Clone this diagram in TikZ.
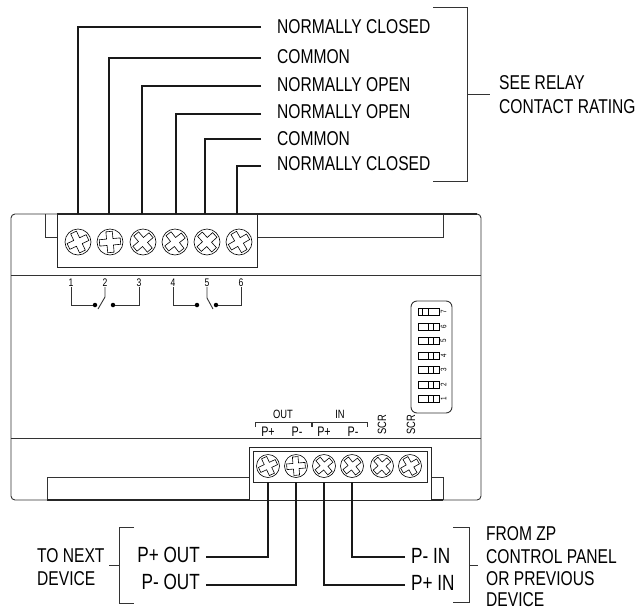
\documentclass[tikz,border=0pt]{standalone}
\usepackage{fontspec}
\setmainfont[FakeStretch=0.78]{Liberation Sans}
\usetikzlibrary{positioning}

\newcommand{\screwcross}[3]{%
  \draw[line width=0.6pt,shift={(#1)},rotate=#2,scale=#3]
    (-10.5,-3.2) -- (-3.2,-3.2) -- (-3.2,-10.5) -- (3.2,-10.5) -- (3.2,-3.2) -- (10.5,-3.2)
    -- (10.5,3.2) -- (3.2,3.2) -- (3.2,10.5) -- (-3.2,10.5) -- (-3.2,3.2) -- (-10.5,3.2) -- cycle;}

\begin{document}
\begin{tikzpicture}[x=1pt,y=-1pt]
      \tikzstyle{every node}=[inner sep=0pt,text=black]
      \tikzstyle{lab}=[anchor=west,font=\fontsize{20}{20}\selectfont]
      \tikzstyle{biglab}=[font=\fontsize{22}{22}\selectfont]
      \tikzstyle{tiny}=[font=\fontsize{13.8}{13.8}\selectfont]
      \tikzstyle{buslab}=[font=\fontsize{12}{12}\selectfont]
      \tikzstyle{num}=[font=\fontsize{11}{11}\selectfont]
      \tikzstyle{dipnum}=[font=\fontsize{8}{8}\selectfont,rotate=90]
      \tikzstyle{wire}=[line width=1.6pt,black!90]
      \tikzstyle{thin}=[line width=0.9pt,black!80]
      \tikzstyle{block}=[draw,line width=1pt,black!85,fill=white]
      \tikzstyle{contact}=[circle,fill=black,minimum size=4.5pt]
      \tikzstyle{dip}=[draw,line width=0.9pt,minimum width=21pt,minimum height=7pt]
      \tikzstyle{slider}=[draw,line width=1pt,minimum width=5.5pt,minimum height=7pt]
      \tikzstyle{bigscrew}=[circle,draw,line width=0.6pt,minimum size=26pt]
      \tikzstyle{smallscrew}=[circle,draw,line width=0.6pt,minimum size=23pt]

      \useasboundingbox (0,0) rectangle (635,611);

      % housing
      \draw[thin,rounded corners=4pt] (11,214) rectangle (481,500);
      \draw[thin] (11,275.5) -- (481,275.5);
      \draw[thin] (11,438) -- (481,438);
      \draw[thin] (45,214) -- (45,237) -- (57,237);
      \draw[thin] (257,237) -- (443,237) -- (443,214);
      \draw[thin] (249,477) -- (47,477) -- (47,500);
      \draw[thin] (431,477) -- (443,477) -- (443,500);
      \draw[line width=1.1pt,black!85] (57,214) -- (477,214);
      \draw[line width=1.1pt,black!85] (47,500) -- (443,500);

      % terminal blocks
      \node[block,minimum width=200pt,minimum height=53pt] (tb) at (157,240.5) {};
      \node[block,minimum width=182pt,minimum height=53pt] (bb) at (340,473.5) {};
      \node[block,minimum width=174pt,minimum height=31pt] (bi) at (340,466.5) {};

      \node[bigscrew] (t1) at (78,242) {};
      \node[bigscrew] (t2) at (110,242) {};
      \node[bigscrew] (t3) at (143,242) {};
      \node[bigscrew] (t4) at (175,242) {};
      \node[bigscrew] (t5) at (207,242) {};
      \node[bigscrew] (t6) at (239,242) {};
      \screwcross{t1}{25}{1}
      \screwcross{t2}{5}{1}
      \screwcross{t3}{40}{1}
      \screwcross{t4}{38}{1}
      \screwcross{t5}{42}{1}
      \screwcross{t6}{30}{1}

      \node[smallscrew] (b1) at (268,466) {};
      \node[smallscrew] (b2) at (296,466) {};
      \node[smallscrew] (b3) at (324,466) {};
      \node[smallscrew] (b4) at (352,466) {};
      \node[smallscrew] (b5) at (382,466) {};
      \node[smallscrew] (b6) at (410,466) {};
      \screwcross{b1}{25}{0.88}
      \screwcross{b2}{5}{0.88}
      \screwcross{b3}{40}{0.88}
      \screwcross{b4}{38}{0.88}
      \screwcross{b5}{42}{0.88}
      \screwcross{b6}{30}{0.88}

      % relay side
      \node[lab] (nc1) at (277,27) {NORMALLY CLOSED};
      \node[lab] (com1) at (277,57) {COMMON};
      \node[lab] (no1) at (277,85) {NORMALLY OPEN};
      \node[lab] (no2) at (277,112) {NORMALLY OPEN};
      \node[lab] (com2) at (277,139) {COMMON};
      \node[lab] (nc2) at (277,164) {NORMALLY CLOSED};

      \coordinate (e1) at (261,27);
      \coordinate (e2) at (261,58);
      \coordinate (e3) at (261,86);
      \coordinate (e4) at (261,114);
      \coordinate (e5) at (261,139);
      \coordinate (e6) at (261,166);
      \coordinate (s1) at (78,214);
      \coordinate (s2) at (109,214);
      \coordinate (s3) at (142,214);
      \coordinate (s4) at (176,214);
      \coordinate (s5) at (205,214);
      \coordinate (s6) at (237,214);

      \draw[wire] (e1) -| (s1);
      \draw[wire] (e2) -| (s2);
      \draw[wire] (e3) -| (s3);
      \draw[wire] (e4) -| (s4);
      \draw[wire] (e5) -| (s5);
      \draw[wire] (e6) -| (s6);

      \coordinate (rt) at (433,7);
      \coordinate (rb) at (433,181);
      \coordinate (rc) at (467,7);
      \coordinate (rd) at (467,181);
      \coordinate (rm) at (467,94);
      \coordinate (rn) at (490,94);
      \draw[thin] (rt) -- (rc) -- (rd) -- (rb);
      \draw[thin] (rm) -- (rn);
      \node[lab] (see) at (499,83) {SEE RELAY};
      \node[lab] (rating) at (499,107) {CONTACT RATING};

      % contact symbols
      \node[num] (c1) at (71,283) {1};
      \node[num] (c2) at (105,283) {2};
      \node[num] (c3) at (139,283) {3};
      \node[num] (c4) at (173,283) {4};
      \node[num] (c5) at (207,283) {5};
      \node[num] (c6) at (241,283) {6};
      \node[contact] (d1) at (95,305) {};
      \node[contact] (d2) at (113,305) {};
      \node[contact] (d3) at (197,305) {};
      \node[contact] (d4) at (216,305) {};
      \draw[thin] (c1.south) |- (d1);
      \draw[thin] (d2) -| (c3.south);
      \draw[thin] (c4.south) |- (d3);
      \draw[thin] (d4) -| (c6.south);
      \draw[thin] (c2.south) -- (105,297) -- (98,309);
      \draw[thin] (c5.south) -- (207,298) -- (213,309);

      % dip switch
      \draw[thin,rounded corners=6pt] (411,301) rectangle (452,413);
      \node[dip] (sw7) at (428.5,312) {};
      \node[dip] (sw6) at (428.5,327) {};
      \node[dip] (sw5) at (428.5,341) {};
      \node[dip] (sw4) at (428.5,356) {};
      \node[dip] (sw3) at (428.5,370) {};
      \node[dip] (sw2) at (428.5,385) {};
      \node[dip] (sw1) at (428.5,399) {};
      \node[slider] at (425.5,312) (k7) {};
      \node[slider] at (431,327) (k6) {};
      \node[slider] at (431,341) (k5) {};
      \node[slider] at (431,356) (k4) {};
      \node[slider] at (431,370) (k3) {};
      \node[slider] at (431,385) (k2) {};
      \node[slider] at (431,399) (k1) {};
      \node[dipnum] (n7) at (443.5,312) {7};
      \node[dipnum] (n6) at (443.5,327) {6};
      \node[dipnum] (n5) at (443.5,341) {5};
      \node[dipnum] (n4) at (443.5,356) {4};
      \node[dipnum] (n3) at (443.5,370) {3};
      \node[dipnum] (n2) at (443.5,385) {2};
      \node[dipnum] (n1) at (443.5,399) {1};

      % bus labels
      \node[buslab] (out) at (283,414) {OUT};
      \node[buslab] (in) at (340,414) {IN};
      \draw[thin] (255,427) -- (255,422) -- (311,422) -- (311,427);
      \draw[thin] (312,427) -- (312,422) -- (367,422) -- (367,427);
      \node[tiny] (l1) at (268,432) {P+};
      \node[tiny] (l2) at (297,432) {P-};
      \node[tiny] (l3) at (324,432) {P+};
      \node[tiny] (l4) at (353,432) {P-};
      \node[buslab,rotate=90] (scr1) at (382,425) {SCR};
      \node[buslab,rotate=90] (scr2) at (411,425) {SCR};

      % power wires
      \node[biglab,anchor=east] (pout1) at (200,555) {P+ OUT};
      \node[biglab,anchor=east] (pout2) at (200,582) {P- OUT};
      \node[biglab,anchor=west] (pin1) at (411,556) {P- IN};
      \node[biglab,anchor=west] (pin2) at (411,583) {P+ IN};
      \coordinate (f1) at (206,557);
      \coordinate (f2) at (206,585);
      \coordinate (f3) at (405,557);
      \coordinate (f4) at (405,585);
      \coordinate (g1) at (268,482);
      \coordinate (g2) at (296,482);
      \coordinate (g3) at (324,482);
      \coordinate (g4) at (352,482);
      \draw[wire] (f1) -| (g1);
      \draw[wire] (f2) -| (g2);
      \draw[wire] (f3) -| (g4);
      \draw[wire] (f4) -| (g3);

      \coordinate (lt) at (134,527);
      \coordinate (lb) at (134,603);
      \coordinate (lc) at (119,527);
      \coordinate (ld) at (119,603);
      \coordinate (lm) at (119,565);
      \coordinate (ln) at (109,565);
      \draw[thin] (lt) -- (lc) -- (ld) -- (lb);
      \draw[thin] (lm) -- (ln);
      \node[lab] (next) at (37,556) {TO NEXT};
      \node[lab] (nextdev) at (37,579) {DEVICE};

      \coordinate (qt) at (453,527);
      \coordinate (qb) at (453,602);
      \coordinate (qc) at (469,527);
      \coordinate (qd) at (469,602);
      \coordinate (qm) at (469,565);
      \coordinate (qn) at (478,565);
      \draw[thin] (qt) -- (qc) -- (qd) -- (qb);
      \draw[thin] (qm) -- (qn);
      \node[lab] (from) at (486,534) {FROM ZP};
      \node[lab] (panel) at (486,557) {CONTROL PANEL};
      \node[lab] (prev) at (486,579) {OR PREVIOUS};
      \node[lab] (prevdev) at (486,600) {DEVICE};
    \end{tikzpicture}
\end{document}
